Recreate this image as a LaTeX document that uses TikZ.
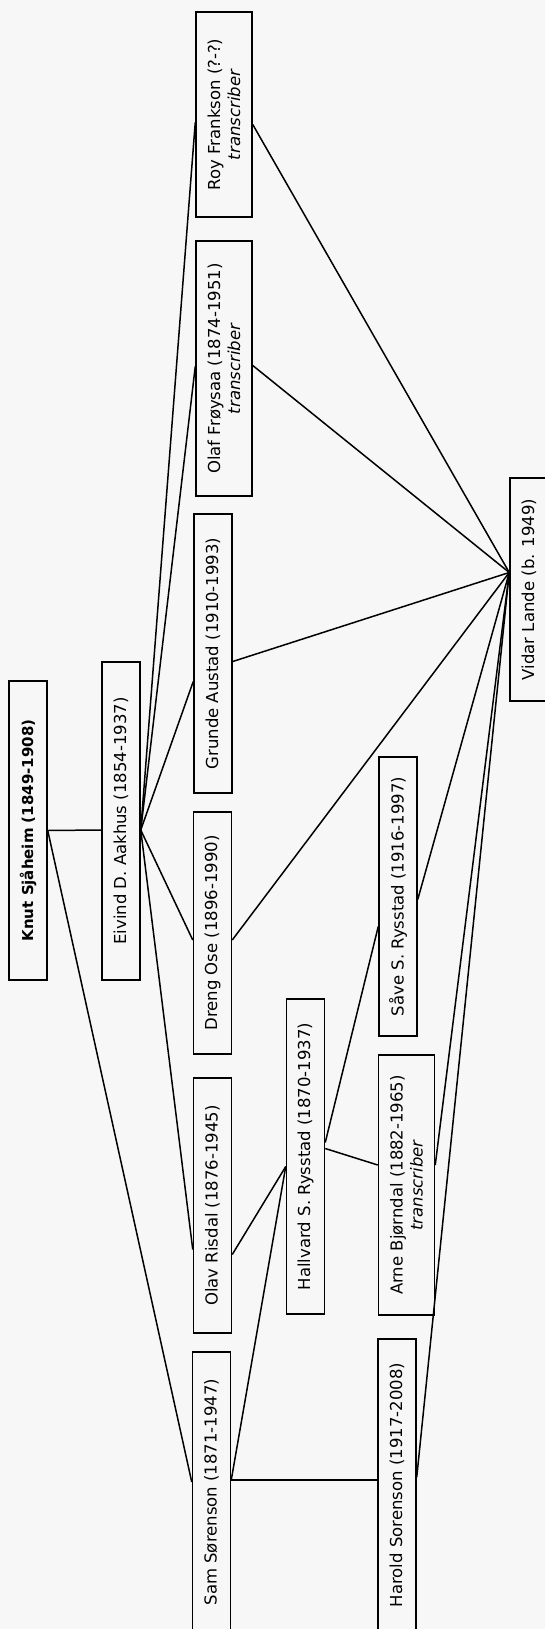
\documentclass[tikz,border=0pt]{standalone}
\usepackage{fontspec}
\setmainfont{DejaVu Sans}
\usetikzlibrary{calc}
\tikzset{
    person/.style={draw,rotate=90,inner sep=0pt,align=center,minimum height=38pt,font=\fontsize{16.5}{20}\selectfont},
    twoline/.style={minimum height=56pt}
}
\begin{document}
\begin{tikzpicture}[x=1pt,y=-1pt,line width=1.5pt]
        \fill[black!3] (0,0) rectangle (545,1629);
        \useasboundingbox (0,0) rectangle (545,1629);

        % first generations
        \node[person,minimum width=299pt,font=\fontsize{15}{18}\selectfont\bfseries] (knut) at (28,830.5){Knut Sjåheim (1849-1908)};
        \node[person,minimum width=318pt] (eivind) at (121,821){Eivind D. Aakhus (1854-1937)};
        \node[person,twoline,minimum width=205pt] (roy) at (224,114.5){Roy Frankson (?-?)\\\textit{transcriber}};
        \node[person,twoline,minimum width=255pt] (olaf) at (224,368.5){Olaf Frøysaa (1874-1951)\\\textit{transcriber}};
        \node[person,minimum width=279pt] (grunde) at (213,653.5){Grunde Austad (1910-1993)};
        \node[person,minimum width=242pt] (dreng) at (212.5,933){Dreng Ose (1896-1990)};
        \node[person,minimum width=255pt] (olav) at (212.5,1205.5){Olav Risdal (1876-1945)};
        \node[person,minimum width=280pt] (sam) at (211.5,1492){Sam Sørenson (1871-1947)};
        \node[person,minimum width=315pt] (hallvard) at (305.5,1156.5){Hallvard S. Rysstad (1870-1937)};
        % later generations
        \node[person,minimum width=279pt] (saave) at (398,896.5){Såve S. Rysstad (1916-1997)};
        \node[person,twoline,minimum width=260pt] (arne) at (406.5,1185){Arne Bjørndal (1882-1965)\\\textit{transcriber}};
        \node[person,minimum width=292pt] (harold) at (397,1485){Harold Sorenson (1917-2008)};
        \node[person,minimum width=223pt] (vidar) at (529,589.5){Vidar Lande (b. 1949)};

        \coordinate (eivindR) at ($(eivind.south)+(0,9)$);
        \coordinate (vidarL) at ($(vidar.north)+(0,-17)$);

        \draw (knut.south) -- ($(eivind.north)+(0,9)$);
        \draw (knut.south) -- ($(sam.north)+(0,-10)$);

        \draw (eivindR) -- ($(roy.north)+(0,8)$);
        \draw (eivindR) -- ($(olaf.north)+(0,-2)$);
        \draw (eivindR) -- ($(grunde.north)+(0,28)$);
        \draw (eivindR) -- ($(dreng.north)+(0,7)$);
        \draw (eivindR) -- ($(olav.north)+(0,44)$);

        \draw ($(olav.south)+(0,49)$) -- ($(hallvard.north)+(0,10)$);
        \draw ($(sam.south)+(0,-12)$) -- ($(hallvard.north)+(0,10)$);
        \draw ($(sam.south)+(0,-12)$) -- ($(harold.north)+(0,-5)$);
        \draw ($(hallvard.south)+(0,-14)$) -- ($(saave.north)+(0,30)$);
        \draw ($(hallvard.south)+(0,-8)$) -- ($(arne.north)+(0,-20)$);

        % everyone who taught Vidar
        \draw ($(roy.south)+(0,10)$) -- (vidarL);
        \draw ($(olaf.south)+(0,-3)$) -- (vidarL);
        \draw ($(grunde.south)+(0,8)$) -- (vidarL);
        \draw ($(dreng.south)+(0,7)$) -- (vidarL);
        \draw ($(saave.south)+(0,3)$) -- (vidarL);
        \draw ($(arne.south)+(0,-20)$) -- (vidarL);
        \draw ($(harold.south)+(0,-8)$) -- (vidarL);
\end{tikzpicture}
\end{document}
